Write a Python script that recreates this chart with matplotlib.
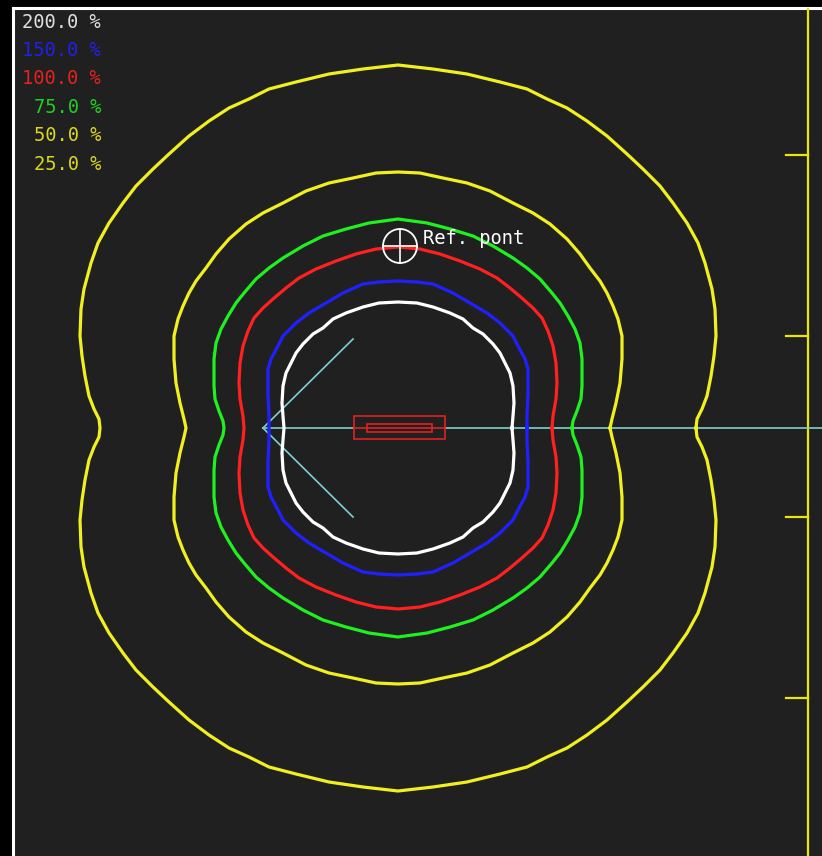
import numpy as np
import matplotlib
matplotlib.use("Agg")
import matplotlib.pyplot as plt
from matplotlib.patches import Rectangle, Circle

# isodose levels and their display colours
levels = ["200.0 %", "150.0 %", "100.0 %", "75.0 %", "50.0 %", "25.0 %"]
line_colors = ["#ffffff", "#2020ff", "#ff2020", "#20f020", "#f0f020", "#f0f020"]
text_colors = ["#e0e0e0", "#2020e8", "#e82020", "#20d020", "#d8d820", "#d8d820"]

# one quadrant of each isodose curve, offsets (px) from the source centre,
# running from the waist (dy=0) down to the bottom of the curve
iso200_dx = [114, 115, 116, 115, 112, 107, 102, 95, 85, 75, 65, 52, 35, 19, 0]
iso200_dy = [0, 12, 25, 42, 55, 65, 75, 84, 94, 100, 109, 115, 121, 125, 126]
iso150_dx = [129, 129, 130, 130, 127, 120, 115, 102, 89, 72, 55, 35, 19, 0]
iso150_dy = [0, 12, 35, 59, 69, 82, 92, 105, 115, 125, 135, 144, 146, 147]
iso100_dx = [154, 155, 158, 159, 158, 155, 150, 144, 135, 125, 112, 99, 82, 62, 42, 22, 0]
iso100_dy = [0, 12, 29, 45, 65, 82, 97, 110, 120, 129, 140, 150, 159, 167, 174, 179, 181]
iso75_dx = [174, 175, 179, 183, 184, 184, 182, 177, 170, 162, 154, 142, 129, 115, 95, 75, 52, 29, 0]
iso75_dy = [0, 7, 17, 29, 42, 69, 85, 99, 112, 125, 135, 149, 160, 170, 182, 192, 199, 205, 209]
iso50_dx = [212, 214, 218, 222, 224, 224, 220, 215, 209, 202, 192, 182, 169, 152, 135, 115, 92, 69, 45, 22, 0]
iso50_dy = [0, 9, 25, 45, 69, 92, 109, 122, 135, 147, 160, 174, 189, 204, 215, 225, 237, 245, 250, 255, 256]
iso25_dx = [298, 299, 304, 309, 313, 316, 318, 317, 314, 307, 300, 289, 275, 262, 245, 229, 209,
            189, 169, 149, 129, 102, 69, 35, 0]
iso25_dy = [0, 9, 19, 32, 52, 72, 92, 119, 139, 165, 185, 205, 225, 242, 259, 274, 292,
            307, 320, 329, 339, 346, 354, 359, 363]

curves = [(iso200_dx, iso200_dy), (iso150_dx, iso150_dy), (iso100_dx, iso100_dy),
          (iso75_dx, iso75_dy), (iso50_dx, iso50_dy), (iso25_dx, iso25_dy)]

# geometry of the view, in screen pixels
W, H = 822, 856
cx, cy = 398, 428
src_outer = (354, 416, 91, 23)
src_inner = (367, 424, 65, 8)
beam_apex = (263, 428)
beam_ends = [(353, 339), (353, 517), (W, 428)]
ref_point = (400, 246)
ruler_x = 808
ruler_ticks = [155, 336, 517, 698]


def closed_curve(dx, dy):
    dx = np.asarray(dx, float)
    dy = np.asarray(dy, float)
    xs = np.concatenate([dx, -dx[::-1], -dx, dx[::-1]])
    ys = np.concatenate([dy, dy[::-1], -dy, -dy[::-1]])
    return cx + xs, cy + ys


fig = plt.figure(figsize=(W / 100, H / 100), dpi=100)
fig.patch.set_facecolor("black")
ax = fig.add_axes([0, 0, 1, 1])
ax.set_xlim(0, W)
ax.set_ylim(H, 0)
ax.axis("off")

# panel + white frame
ax.add_patch(Rectangle((14, 9), W - 14, H - 9, facecolor="#202020", edgecolor="none", zorder=0))
ax.plot([12.5, 12.5], [7.5, H], color="white", lw=2.2, zorder=1)
ax.plot([12.5, W], [7.5, 7.5], color="white", lw=2.2, zorder=1)

# depth ruler on the right
ax.plot([ruler_x, ruler_x], [9, H], color="#e8e800", lw=1.6, zorder=2)
for ty in ruler_ticks:
    ax.plot([ruler_x - 22, ruler_x], [ty, ty], color="#e8e800", lw=1.6, zorder=2)

# beam lines
for ex, ey in beam_ends:
    ax.plot([beam_apex[0], ex], [beam_apex[1], ey], color="#80d0d0", lw=1.2, zorder=2)

# isodose curves
for (dx, dy), col in zip(curves, line_colors):
    xs, ys = closed_curve(dx, dy)
    ax.plot(xs, ys, color=col, lw=2.3, zorder=3, solid_joinstyle="round")

# source
ax.add_patch(Rectangle(src_outer[:2], src_outer[2], src_outer[3], fill=False,
                       edgecolor="#e02020", lw=1.2, zorder=4))
ax.add_patch(Rectangle((src_outer[0] + 1, 426), src_outer[2] - 2, 4,
                       facecolor="#202020", edgecolor="none", zorder=4))
ax.plot([src_outer[0], src_outer[0] + src_outer[2]], [428, 428], color="#e02020", lw=1.2, zorder=4)
ax.add_patch(Rectangle(src_inner[:2], src_inner[2], src_inner[3], fill=False,
                       edgecolor="#e02020", lw=1.2, zorder=5))

# reference point
rx, ry = ref_point
ax.add_patch(Circle((rx, ry), 17, fill=False, edgecolor="white", lw=1.3, zorder=6))
ax.plot([rx - 17, rx + 17], [ry, ry], color="white", lw=1.2, zorder=6)
ax.plot([rx, rx], [ry - 17, ry + 17], color="white", lw=1.2, zorder=6)
ax.text(423, 238, "Ref. pont", color="white", fontsize=13.5, family="DejaVu Sans Mono",
        ha="left", va="center", zorder=6)

# legend
for i, (lab, col) in enumerate(zip(levels, text_colors)):
    ax.text(101, 22 + i * 28.4, lab, color=col, fontsize=13.5, family="DejaVu Sans Mono",
            ha="right", va="center", zorder=6)

fig.savefig("out.png", dpi=100, facecolor=fig.get_facecolor())
